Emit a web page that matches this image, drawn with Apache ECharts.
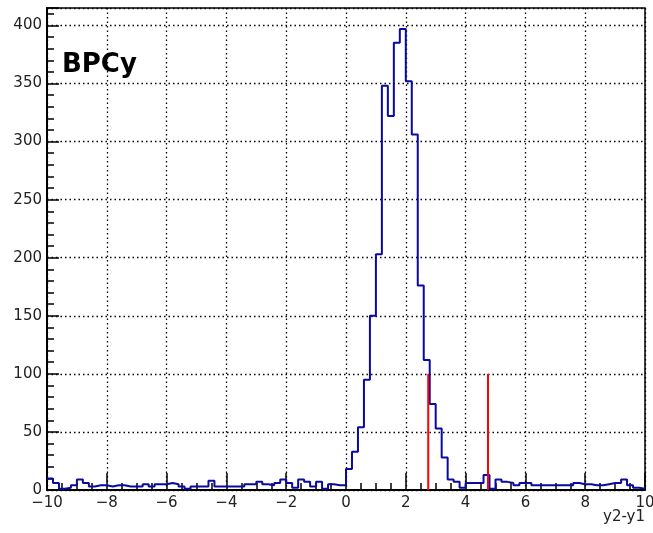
<!DOCTYPE html>
<html>
<head>
<meta charset="utf-8">
<script src="https://cdn.jsdelivr.net/npm/echarts@6/dist/echarts.min.js"></script>
<style>
html,body{margin:0;padding:0;background:#fff;}
#chart{width:653px;height:533px;}
</style>
</head>
<body>
<div id="chart"></div>
<script>
// Histogram definition: 100 bins from -10 to 10
var binLow = -10;
var binWidth = 0.2;
var counts = [
  10, 6, 1, 2, 4, 9, 6, 3, 4, 4,
  3, 4, 4, 3, 3, 3, 5, 3, 5, 5,
  6, 5, 3, 1, 3, 3, 3, 8, 3, 3,
  3, 3, 3, 5, 5, 7, 5, 4, 6, 9,
  6, 2, 9, 7, 3, 7, 1, 5, 4, 4,
  18, 33, 54, 95, 150, 203, 348, 322, 385, 397,
  352, 306, 176, 112, 74, 53, 28, 9, 7, 2,
  6, 6, 6, 13, 1, 9, 7, 6, 4, 6,
  6, 4, 4, 4, 4, 4, 4, 4, 6, 5,
  5, 4, 4, 5, 6, 6, 9, 4, 2, 1
];
// Red cut lines
var cutPositions = [2.75, 4.75];
var cutHeight = 100;
// Axes
var xMin = -10, xMax = 10, xStep = 2;
var yMin = 0, yMax = 415, yStep = 50;
var titleText = 'BPCy';
var xTitle = 'y2-y1';

var histData = counts.map(function (c, i) { return [binLow + i * binWidth, c]; });
histData.push([binLow + counts.length * binWidth, counts[counts.length - 1]]);

var cutSeries = cutPositions.map(function (x) {
  return {
    type: 'line', data: [[x, 0], [x, cutHeight]], symbol: 'none', silent: true,
    lineStyle: { color: '#ff0000', width: 2 }, z: 4
  };
});

var chart = echarts.init(document.getElementById('chart'), null, { renderer: 'canvas' });
var labelFont = { fontFamily: 'DejaVu Sans', fontSize: 15, color: '#222' };

chart.setOption({
  backgroundColor: '#ffffff',
  animation: false,
  grid: { left: 47, right: 8, top: 8, bottom: 43, outerBoundsMode: 'none', containLabel: false, show: true, borderColor: '#000', borderWidth: 1.5, backgroundColor: 'transparent' },
  xAxis: {
    type: 'value', min: xMin, max: xMax, interval: xStep,
    axisLine: { show: true, onZero: false, lineStyle: { color: '#000', width: 2 } },
    axisTick: { show: true, inside: true, length: 17, lineStyle: { color: '#000', width: 1.5 } },
    minorTick: { show: true, splitNumber: 4, length: 7, lineStyle: { color: '#000', width: 1.5 } },
    splitLine: { show: true, lineStyle: { color: '#000', width: 1.3, type: [1.5, 3] } },
    axisLabel: Object.assign({ margin: 6, formatter: function (v) { return v < 0 ? '\u2212' + Math.abs(v) : String(v); } }, labelFont)
  },
  yAxis: {
    type: 'value', min: yMin, max: yMax, interval: yStep,
    axisLine: { show: true, onZero: false, lineStyle: { color: '#000', width: 2 } },
    axisTick: { show: true, inside: true, length: 12, lineStyle: { color: '#000', width: 1.5 } },
    minorTick: { show: true, splitNumber: 5, length: 7, lineStyle: { color: '#000', width: 1.5 } },
    splitLine: { show: true, lineStyle: { color: '#000', width: 1.3, type: [1.5, 3] } },
    axisLabel: Object.assign({ margin: 5, showMaxLabel: false }, labelFont)
  },
  series: [{
    type: 'line', data: histData, step: 'end', symbol: 'none', silent: true,
    lineStyle: { color: '#0a0aa0', width: 2 }, z: 3
  }].concat(cutSeries),
  graphic: [
    { type: 'text', left: 62, top: 52, style: { text: titleText, font: 'bold 26px "DejaVu Sans"', fill: '#000' }, z: 10 },
    { type: 'text', right: 8, top: 510, style: { text: xTitle, font: '15px "DejaVu Sans"', fill: '#222' }, z: 10 }
  ]
});
</script>
</body>
</html>
